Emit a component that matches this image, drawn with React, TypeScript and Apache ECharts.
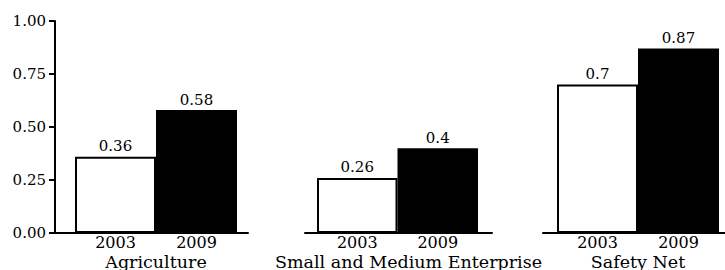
import React, { useEffect, useRef } from "react";
import * as echarts from "echarts";

const categories = ["Agriculture", "Small and Medium Enterprise", "Safety Net"];
const years = ["2003", "2009"];
const values2003 = [0.36, 0.26, 0.7];
const values2009 = [0.58, 0.4, 0.87];
const yMin = 0;
const yMax = 1;
const yInterval = 0.25;

const FONT = "DejaVu Serif";

export default function App() {
  const ref = useRef<HTMLDivElement>(null);
  useEffect(() => {
    if (!ref.current) return;
    const chart = echarts.init(ref.current, undefined, { renderer: "svg" });
    const top = 21;
    const height = 212;
    const wideGrids = [
      { left: 55, width: 193 },
      { left: 305, width: 187 },
      { left: 543, width: 192 },
    ];
    const barGrids = [
      { left: 75, width: 162 },
      { left: 317, width: 161 },
      { left: 557, width: 162 },
    ];
    // shift of the group name's centre to the right, in px
    const nameShift = [0, 11, 0];
    const grid = [...wideGrids, ...barGrids].map((g) => ({
      ...g,
      top,
      height,
      containLabel: false,
      outerBoundsMode: "none",
    }));
    const xAxis: any[] = [];
    const yAxis: any[] = [];
    wideGrids.forEach((_, i) => {
      xAxis.push({
        type: "category",
        gridIndex: i,
        data: [""],
        axisLine: { show: true, lineStyle: { color: "#000", width: 2 } },
        axisTick: { show: false },
        axisLabel: { show: false },
        splitLine: { show: false },
      });
      yAxis.push({
        type: "value",
        gridIndex: i,
        min: yMin,
        max: yMax,
        interval: yInterval,
        show: i === 0,
        axisLine: { show: true, lineStyle: { color: "#000", width: 2 } },
        axisTick: { show: true, length: 6, lineStyle: { color: "#000", width: 2 } },
        axisLabel: {
          color: "#000",
          fontFamily: FONT,
          fontSize: 15,
          margin: 9,
          formatter: (v: number) => v.toFixed(2),
        },
        splitLine: { show: false },
      });
    });
    barGrids.forEach((_, i) => {
      xAxis.push({
        type: "category",
        gridIndex: 3 + i,
        data: years,
        axisLine: { show: false },
        axisTick: { show: false },
        axisLabel: { color: "#000", fontFamily: FONT, fontSize: 16, margin: 1 },
        name: categories[i],
        nameLocation: "middle",
        nameGap: 20,
        nameMoveOverlap: false,
        nameTextStyle: {
          color: "#000",
          fontFamily: FONT,
          fontSize: 17.5,
          padding: [0, 0, 0, nameShift[i] * 2],
        },
      });
      yAxis.push({
        type: "value",
        gridIndex: 3 + i,
        min: yMin,
        max: yMax,
        show: false,
      });
    });
    const series = categories.map((_, i) => ({
      type: "bar",
      xAxisIndex: 3 + i,
      yAxisIndex: 3 + i,
      barWidth: "100%",
      data: [
        {
          value: values2003[i],
          itemStyle: { color: "#fff", borderColor: "#000", borderWidth: 2 },
        },
        { value: values2009[i], itemStyle: { color: "#000" } },
      ],
      label: {
        show: true,
        position: "top",
        distance: 3,
        color: "#000",
        fontFamily: FONT,
        fontSize: 15,
        formatter: (p: any) => String(p.value),
      },
    }));
    chart.setOption({
      animation: false,
      backgroundColor: "#fff",
      textStyle: { fontFamily: FONT, color: "#000" },
      grid,
      xAxis,
      yAxis,
      series,
    });
    return () => chart.dispose();
  }, []);
  return (
    <div
      ref={ref}
      style={{ position: "fixed", left: 0, top: 0, width: 725, height: 270 }}
    />
  );
}
